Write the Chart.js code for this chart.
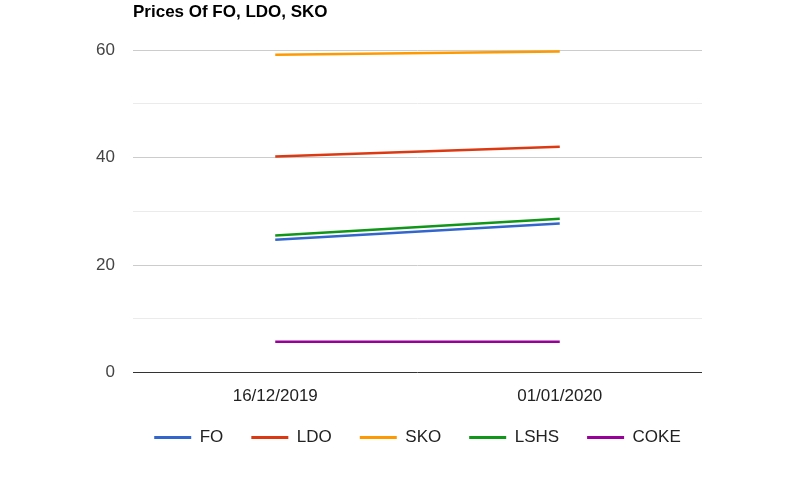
<!DOCTYPE html>
<html>
<head>
<meta charset="utf-8">
<script src="https://cdn.jsdelivr.net/npm/chart.js@4.4.0/dist/chart.umd.min.js"></script>
<style>
  html, body { margin: 0; padding: 0; background: #fff; }
  #wrap { width: 796px; height: 482px; }
</style>
</head>
<body>
<div id="wrap"><canvas id="price-chart" width="796" height="482"></canvas></div>
<script>
// values
var dates = ["16/12/2019", "01/01/2020"];
var fo   = [24.7, 27.7];
var ldo  = [40.2, 42.0];
var sko  = [59.1, 59.7];
var lshs = [25.5, 28.6];
var coke = [5.7, 5.7];
var chartTitle = "Prices Of FO, LDO, SKO";

var FONT = "Arial, 'Liberation Sans', sans-serif";

function series(label, values, color){
    return {
        label: label,
        data: values,
        borderColor: color,
        backgroundColor: color,
        borderWidth: 2.5,
        pointRadius: 0,
        pointHoverRadius: 0,
        tension: 0,
        fill: false
    };
}

// title drawn at the left edge of the plot area, like the original
var leftTitle = {
    id: 'leftTitle',
    afterDraw: function(chart){
        var ctx = chart.ctx;
        ctx.save();
        ctx.font = "bold 17px " + FONT;
        ctx.fillStyle = "#000";
        ctx.textAlign = "left";
        ctx.textBaseline = "middle";
        ctx.fillText(chartTitle, chart.chartArea.left, 12);
        ctx.restore();
    }
};

var ctx = document.getElementById("price-chart").getContext('2d');
var priceChart = new Chart(ctx, {
    type: 'line',
    data: {
        labels: dates,
        datasets: [
            series("FO", fo, "#3366cc"),
            series("LDO", ldo, "#dc3912"),
            series("SKO", sko, "#ff9900"),
            series("LSHS", lshs, "#109618"),
            series("COKE", coke, "#990099")
        ]
    },
    options: {
        responsive: false,
        animation: false,
        layout: { padding: { top: 50, right: 0, bottom: 26, left: 39 } },
        plugins: {
            title: { display: false },
            tooltip: { enabled: false },
            legend: {
                display: true,
                position: "bottom",
                labels: {
                    color: "#222",
                    font: { family: FONT, size: 17 },
                    boxWidth: 37,
                    boxHeight: 3,
                    padding: 28,
                    generateLabels: function(chart){
                        var items = Chart.defaults.plugins.legend.labels.generateLabels(chart);
                        items.forEach(function(it){ it.lineWidth = 0; });
                        return items;
                    }
                }
            }
        },
        scales: {
            x: {
                offset: true,
                grid: { display: false },
                border: { display: false },
                ticks: {
                    color: "#222",
                    font: { family: FONT, size: 17 },
                    padding: 6,
                    maxRotation: 0
                },
                afterFit: function(scale){ scale.height = 28.5; }
            },
            y: {
                min: 0,
                max: 60,
                border: { display: false },
                grid: {
                    drawTicks: false,
                    lineWidth: 1,
                    color: function(c){
                        var v = c.tick.value;
                        if (v === 0) return "#333";
                        return v % 20 === 0 ? "#cccccc" : "#ebebeb";
                    }
                },
                ticks: {
                    stepSize: 10,
                    color: "#444",
                    padding: 18,
                    font: { family: FONT, size: 17 },
                    callback: function(v){ return v % 20 === 0 ? v : ""; }
                },
                afterFit: function(scale){ scale.width = 94; }
            },
            // empty axis on the right, only to keep the right margin
            spacer: {
                position: "right",
                grid: { display: false },
                border: { display: false },
                ticks: { display: false },
                afterFit: function(scale){ scale.width = 94; }
            }
        }
    },
    plugins: [leftTitle]
});
</script>
</body>
</html>
